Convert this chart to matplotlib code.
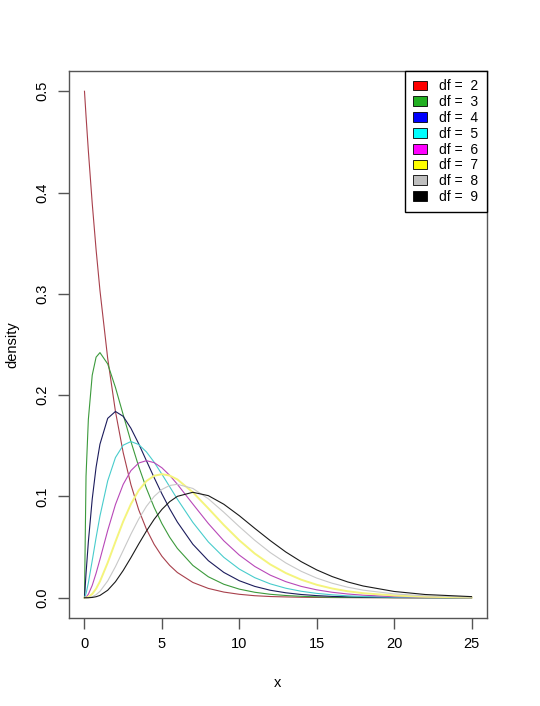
import matplotlib
matplotlib.use('Agg')
import matplotlib.pyplot as plt
from matplotlib.patches import Patch

# x grid and chi-square densities
x = [0, 0.1, 0.25, 0.5, 0.75, 1, 1.5, 2, 2.5, 3, 3.5, 4, 4.5, 5, 5.5, 6,
     7, 8, 9, 10, 11, 12, 13, 14, 15, 16, 17, 18, 20, 22, 25]

d2 = [0.5, 0.4756, 0.4412, 0.3894, 0.3436, 0.3033, 0.2362, 0.1839, 0.1433, 0.1116,
      0.0869, 0.0677, 0.0527, 0.0410, 0.0320, 0.0249, 0.0151, 0.0092, 0.0056, 0.0034,
      0.0020, 0.0012, 0.0008, 0.0005, 0.0003, 0.0002, 0.0001, 0.0001, 0.0, 0.0, 0.0]
d3 = [0, 0.1200, 0.1760, 0.2197, 0.2375, 0.2420, 0.2308, 0.2076, 0.1807, 0.1542,
      0.1297, 0.1080, 0.0892, 0.0732, 0.0598, 0.0487, 0.0319, 0.0207, 0.0133, 0.0085,
      0.0054, 0.0034, 0.0022, 0.0014, 0.0009, 0.0005, 0.0003, 0.0002, 0.0001, 0.0, 0.0]
d4 = [0, 0.0238, 0.0552, 0.0974, 0.1289, 0.1516, 0.1771, 0.1839, 0.1791, 0.1673,
      0.1521, 0.1353, 0.1186, 0.1026, 0.0879, 0.0747, 0.0528, 0.0366, 0.0250, 0.0168,
      0.0112, 0.0074, 0.0049, 0.0032, 0.0021, 0.0013, 0.0009, 0.0006, 0.0002, 0.0001, 0.0]
d5 = [0, 0.0040, 0.0147, 0.0366, 0.0594, 0.0807, 0.1154, 0.1384, 0.1506, 0.1542,
      0.1513, 0.1440, 0.1338, 0.1220, 0.1097, 0.0973, 0.0744, 0.0551, 0.0399, 0.0283,
      0.0198, 0.0137, 0.0094, 0.0064, 0.0043, 0.0029, 0.0019, 0.0012, 0.0005, 0.0002, 0.0001]
d6 = [0, 0.0006, 0.0034, 0.0122, 0.0242, 0.0379, 0.0664, 0.0920, 0.1119, 0.1255,
      0.1330, 0.1353, 0.1334, 0.1283, 0.1209, 0.1120, 0.0925, 0.0733, 0.0562, 0.0421,
      0.0309, 0.0223, 0.0159, 0.0112, 0.0078, 0.0054, 0.0037, 0.0025, 0.0011, 0.0005, 0.0001]
d7 = [0, 0.0001, 0.0007, 0.0037, 0.0089, 0.0161, 0.0346, 0.0553, 0.0753, 0.0925,
      0.1059, 0.1152, 0.1204, 0.1220, 0.1206, 0.1168, 0.1041, 0.0882, 0.0718, 0.0567,
      0.0436, 0.0329, 0.0244, 0.0178, 0.0128, 0.0091, 0.0064, 0.0045, 0.0022, 0.0010, 0.0003]
d8 = [0, 0.0, 0.0001, 0.0010, 0.0030, 0.0063, 0.0166, 0.0307, 0.0466, 0.0628,
      0.0776, 0.0902, 0.1000, 0.1069, 0.1108, 0.1120, 0.1079, 0.0977, 0.0844, 0.0702,
      0.0567, 0.0446, 0.0344, 0.0261, 0.0194, 0.0143, 0.0104, 0.0075, 0.0038, 0.0019, 0.0006]
d9 = [0, 0.0, 0.0, 0.0003, 0.0010, 0.0023, 0.0074, 0.0158, 0.0269, 0.0396,
      0.0530, 0.0658, 0.0774, 0.0872, 0.0948, 0.1001, 0.1041, 0.1008, 0.0923, 0.0810,
      0.0685, 0.0564, 0.0452, 0.0356, 0.0275, 0.0209, 0.0156, 0.0116, 0.0062, 0.0032, 0.0011]

dfs = [2, 3, 4, 5, 6, 7, 8, 9]
series = [d2, d3, d4, d5, d6, d7, d8, d9]
line_cols = ['#a8404c', '#3c9a3c', '#1c1c5c', '#48cccc', '#b848b8', '#f4f47c', '#c8c8c8', '#1a1a1a']
leg_cols = ['red', '#22b022', 'blue', 'cyan', 'magenta', 'yellow', '#bebebe', 'black']

plt.rcParams['font.family'] = ['Liberation Sans', 'DejaVu Sans']
fig = plt.figure(figsize=(5.4, 7.06), dpi=100)
ax = fig.add_axes([69/540, 1-618/706, (487-69)/540, (618-71)/706])

for d, s, c in zip(dfs, series, line_cols):
    lw = 1.4 if d == 7 else 0.8
    ax.plot(x, s, color=c, lw=lw)

ax.set_xlim(-1, 26)
ax.set_ylim(-0.02, 0.52)
ax.set_xticks([0, 5, 10, 15, 20, 25])
ax.set_yticks([0.0, 0.1, 0.2, 0.3, 0.4, 0.5])
ax.set_yticklabels(['0.0', '0.1', '0.2', '0.3', '0.4', '0.5'], rotation=90, va='center')
ax.tick_params(length=8, width=1, color='#555555', labelsize=10.5, pad=6)
for sp in ax.spines.values():
    sp.set_color('#555555')
    sp.set_linewidth(1)

ax.set_xlabel('x', fontsize=10.5, labelpad=18)
ax.set_ylabel('density', fontsize=10.5, labelpad=12)

handles = [Patch(facecolor=c, edgecolor='black', lw=0.6) for c in leg_cols]
labels = ['df =  %d' % d for d in dfs]
leg = ax.legend(handles, labels, loc='upper right', bbox_to_anchor=(1, 1),
                borderaxespad=0, fancybox=False, framealpha=1, edgecolor='black',
                fontsize=10, handlelength=1.0, handleheight=0.7, labelspacing=0.13,
                handletextpad=0.9, borderpad=0.6)
leg.get_frame().set_linewidth(1)

fig.savefig('out.png', dpi=100)
